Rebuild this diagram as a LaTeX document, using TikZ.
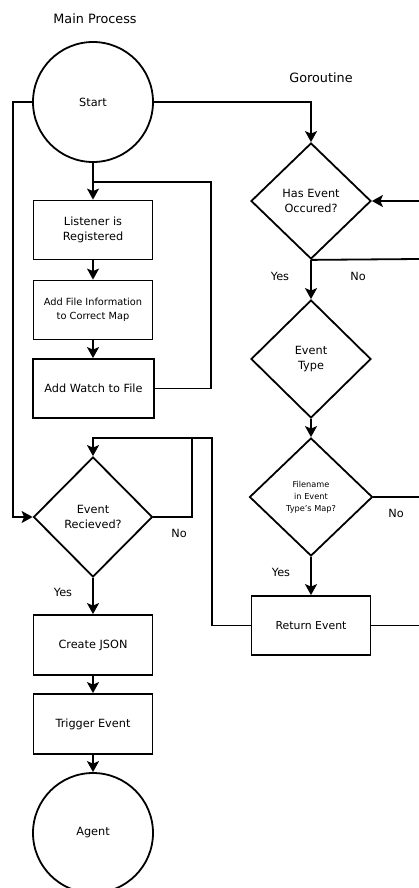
\documentclass[tikz,border=0pt]{standalone}
\usepackage{fontspec}
\setmainfont{DejaVu Sans}
\usetikzlibrary{shapes.geometric,arrows.meta}

\def \boxW{119}
\def \boxH{59}
\def \circR{120}
\def \edgeX{419}
\def \mainX{93}
\def \goX{311}

\tikzset{
  flow/.style = {line width=1.8pt},
  arr/.style = {flow, -{Stealth[length=11pt,width=12pt,inset=2.5pt]}},
  procbox/.style = {draw, line width=1.8pt, rectangle, minimum width=\boxW, minimum height=\boxH, inner sep=0, align=center, font=\fontsize{11.3}{15}\selectfont},
  termcirc/.style = {draw, line width=1.8pt, circle, minimum size=\circR, inner sep=0, font=\fontsize{11.3}{15}\selectfont},
  decide/.style = {draw, line width=1.8pt, diamond, minimum width=120, minimum height=118, inner sep=0, align=center, font=\fontsize{11.3}{15}\selectfont},
  lbl/.style = {font=\fontsize{11.3}{13}\selectfont}
}

\begin{document}
\begin{tikzpicture}[x=1pt, y=-1pt]
\clip (0,0) rectangle (419,888);

% ---- Headings
\node[font=\fontsize{12.8}{15}\selectfont] (mainhead) at (95,19) {Main Process};
\node[font=\fontsize{12.8}{15}\selectfont] (gohead) at (321,78) {Goroutine};

% ---- Main process column
\node[termcirc] (start) at (\mainX,102) {Start};
\node[procbox] (listen) at (\mainX,230) {Listener is\\Registered};
\node[procbox, font=\fontsize{9.8}{14}\selectfont] (addinfo) at (\mainX,310) {Add File Information\\to Correct Map};
\node[procbox, minimum width=121] (addwatch) at (\mainX+0.5,388.5) {Add Watch to File};
\node[decide, minimum width=119, minimum height=120] (recv) at (\mainX,517) {Event\\Recieved?};
\node[procbox, minimum height=60] (json) at (\mainX,645) {Create JSON};
\node[procbox, minimum height=60] (trigger) at (\mainX,724) {Trigger Event};
\node[termcirc] (agent) at (\mainX,833) {Agent};

% ---- Goroutine column
\node[decide, minimum height=116] (occ) at (\goX,201) {Has Event\\Occured?};
\node[decide] (etype) at (\goX,359) {Event\\Type};
\node[decide, minimum width=123, font=\fontsize{8.2}{12}\selectfont] (fname) at (\goX,497) {Filename\\in Event\\Type's Map?};
\node[procbox, font=\fontsize{10.9}{14}\selectfont] (ret) at (\goX,625.5) {Return Event};

% ---- Loop corners
\coordinate (wtop) at (211,182);
\coordinate (lrail) at (13,102);
\coordinate (rloop) at (192,438);
\coordinate (rjoin) at (\mainX,438);
\coordinate (retup) at (212,438);
\coordinate (occin) at (\edgeX,201);
\coordinate (occno) at (\edgeX,259);
\coordinate (fnameno) at (\edgeX,497);
\coordinate (retout) at (\edgeX,625.5);

% ---- Main flow
\draw[arr] (start.south) -- (listen.north);
\draw[arr] (listen.south) -- (addinfo.north);
\draw[arr] (addinfo.south) -- (addinfo.south |- addwatch.north);
\draw[flow] (addwatch.east) -| (wtop) -- (start.south |- wtop);
\draw[arr] (start.west) -- (lrail) |- (recv.west);
\draw[arr] (recv.east) -| (rloop) -- (rjoin) -- (recv.north);
\draw[arr] (recv.south) -- (json.north);
\draw[arr] (json.south) -- (trigger.north);
\draw[arr] (trigger.south) -- (agent.north);

% ---- Goroutine flow
\draw[arr] (start.east) -| (occ.north);
\draw[arr] (occin) -- (occ.east);
\draw[arr] (occ.south) -- (etype.north);
\draw[flow] (occ.south) -- (occno);
\draw[arr] (etype.south) -- (fname.north);
\draw[flow] (fname.east) -- (fnameno);
\draw[arr] (fname.south) -- (ret.north);
\draw[flow] (ret.east) -- (retout);
\draw[flow] (ret.west) -| (retup) -- (rloop);

% ---- Branch labels
\node[lbl] (occyes) at (280,276) {Yes};
\node[lbl] (occnolbl) at (358,276) {No};
\node[lbl] (recvno) at (179,533) {No};
\node[lbl] (recvyes) at (63,592) {Yes};
\node[lbl] (fnameyes) at (281,572) {Yes};
\node[lbl] (fnamenolbl) at (396,513) {No};
\end{tikzpicture}
\end{document}
